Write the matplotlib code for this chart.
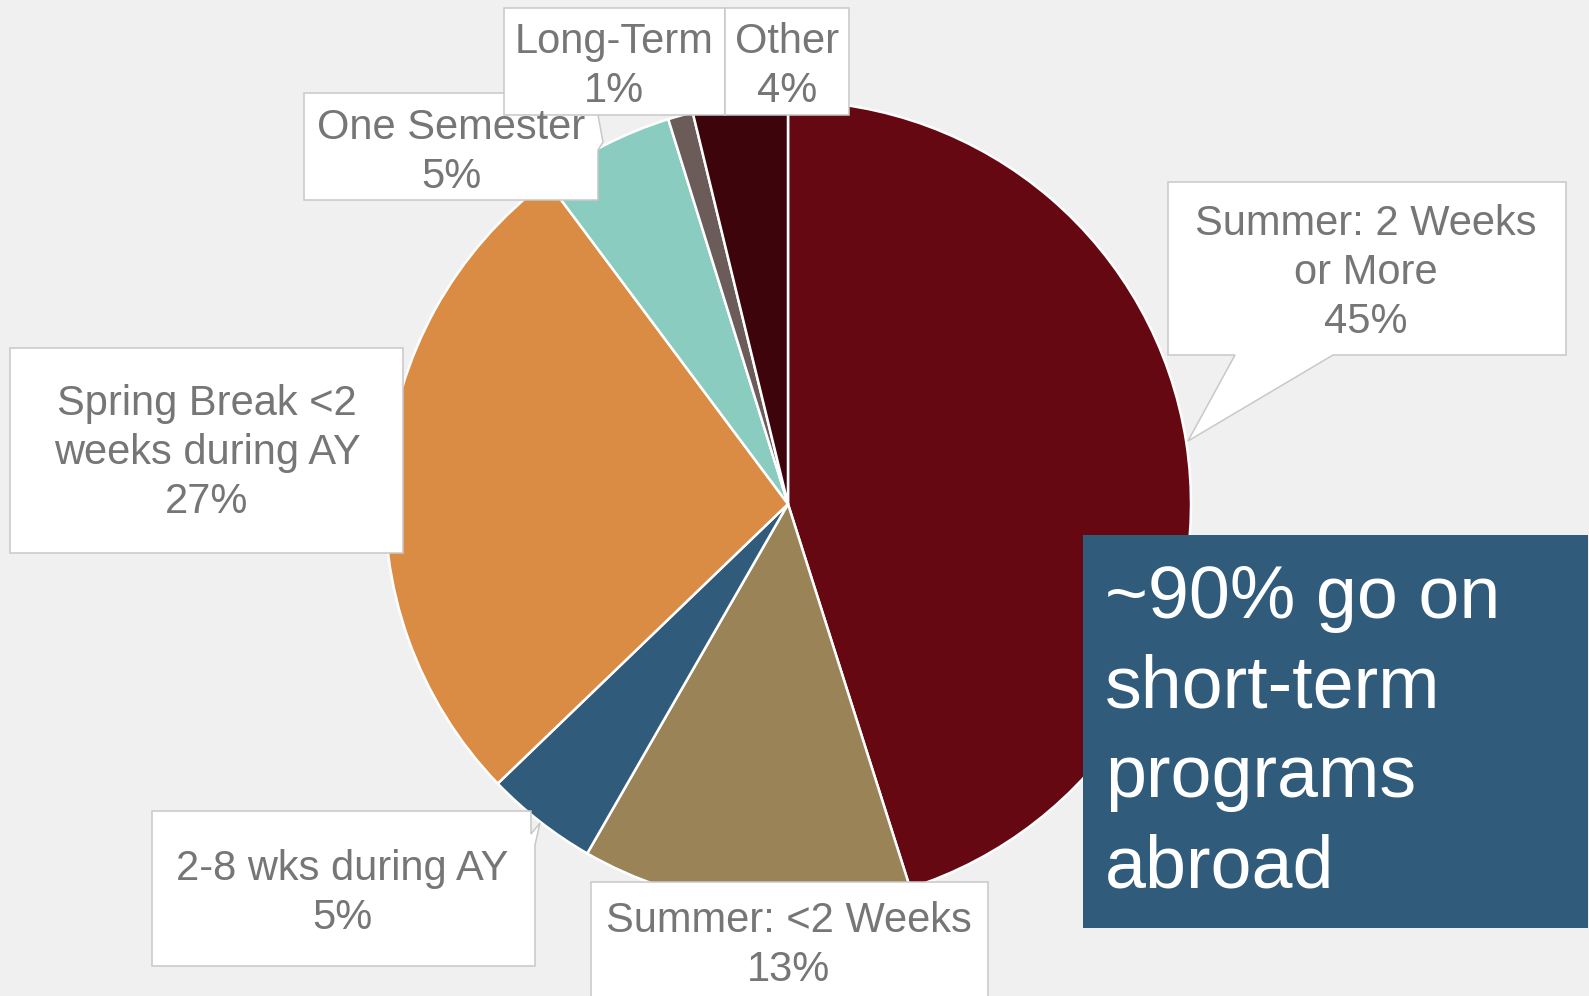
import matplotlib.pyplot as plt
from matplotlib.patches import Polygon, Rectangle

plt.rcParams['font.family'] = ['Liberation Sans', 'DejaVu Sans']

# data (labels show rounded percentages)
categories = ['Summer: 2 Weeks\nor More', 'Summer: <2 Weeks', '2-8 wks during AY',
              'Spring Break <2\nweeks during AY', 'One Semester', 'Long-Term', 'Other']
values = [45.1, 13.2, 4.5, 27.0, 5.4, 1.0, 3.8]
colors = ['#660811', '#9A8457', '#305B7A', '#DA8C45', '#8ACDC0', '#6B5B59', '#3D050B']
note_lines = ['~90% go on', 'short-term', 'programs', 'abroad']

W, H = 1589, 996
fig = plt.figure(figsize=(W / 100, H / 100), dpi=100)
fig.patch.set_facecolor('#F0F0F0')
ax = fig.add_axes([0, 0, 1, 1])


def fy(y):
    # pixel row (from top) -> data y
    return H - y


cx, cy, R = 788, 504, 403
ax.pie(values, colors=colors, startangle=90, counterclock=False,
       center=(cx, fy(cy)), radius=R,
       wedgeprops=dict(edgecolor='white', linewidth=1.8))
ax.set_xlim(0, W)
ax.set_ylim(0, H)
ax.set_aspect('equal')
ax.axis('off')

# callout boxes: outline (pixel coords), text centre x, first baseline
boxes = [
    [(1168, 182), (1566, 182), (1566, 355), (1333, 355), (1188, 441), (1235, 355), (1168, 355)],
    [(591, 882), (988, 882), (988, 1010), (591, 1010)],
    [(152, 811), (531, 811), (531, 834), (540, 823), (535, 845), (535, 966), (152, 966)],
    [(10, 348), (403, 348), (403, 553), (10, 553)],
    [(304, 93), (598, 93), (598, 115), (603, 142), (598, 150), (598, 200), (304, 200)],
    [(504, 8), (725, 8), (725, 115), (504, 115)],
    [(725, 8), (849, 8), (849, 115), (725, 115)],
]
text_x = [1366, 789, 342, 207, 451, 614, 787]
first_base = [235, 932, 880, 415, 139, 53, 53]
step = 49

for pts, tx, b0, name, v in zip(boxes, text_x, first_base, categories, values):
    ax.add_patch(Polygon([(x, fy(y)) for x, y in pts], closed=True,
                         facecolor='white', edgecolor='#C8C8C8', linewidth=1.1, zorder=3))
    lines = name.split('\n') + [f'{int(v + 0.5)}%']
    for i, ln in enumerate(lines):
        ax.text(tx, fy(b0 + i * step), ln, ha='center', va='baseline',
                fontsize=30, color='#767676', zorder=4)

# summary box
ax.add_patch(Rectangle((1083, fy(928)), 1588 - 1083, 928 - 535,
                       facecolor='#305B7A', edgecolor='none', zorder=5))
for i, ln in enumerate(note_lines):
    ax.text(1105, fy(618 + i * 89.7), ln, ha='left', va='baseline',
            fontsize=53, color='white', zorder=6)

fig.savefig('out.png', dpi=100, facecolor=fig.get_facecolor())
